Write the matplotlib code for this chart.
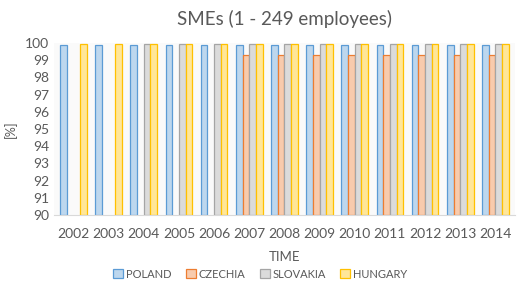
import numpy as np
import matplotlib
matplotlib.use("Agg")
import matplotlib.pyplot as plt

plt.rcParams['font.family'] = ['Lato', 'DejaVu Sans']

years = ['2002', '2003', '2004', '2005', '2006', '2007', '2008',
         '2009', '2010', '2011', '2012', '2013', '2014']
countries = ['POLAND', 'CZECHIA', 'SLOVAKIA', 'HUNGARY']

nan = np.nan
poland = [99.9, 99.9, 99.9, 99.9, 99.9, 99.9, 99.9, 99.9, 99.9, 99.9, 99.9, 99.9, 99.9]
czechia = [nan, nan, nan, nan, nan, 99.3, 99.3, 99.3, 99.3, 99.3, 99.3, 99.3, 99.3]
slovakia = [nan, nan, 99.95, 99.95, 99.95, 99.95, 99.95, 99.95, 99.95, 99.95, 99.95, 99.95, 99.95]
hungary = [99.93, 99.93, 99.93, 99.93, 99.93, 99.93, 99.93, 99.93, 99.93, 99.93, 99.93, 99.93, 99.93]

fills = ['#bdd7ee', '#f8cbad', '#dbdbdb', '#ffe699']
edges = ['#5b9bd5', '#ed7d31', '#a5a5a5', '#ffc000']
txt = '#595959'

fig = plt.figure(figsize=(5.2, 2.83), dpi=100)
ax = fig.add_axes([0.104, 0.24, 0.886, 0.608])

x = np.arange(len(years))
w = 0.19
for i, vals in enumerate([poland, czechia, slovakia, hungary]):
    v = np.array(vals, dtype=float)
    ax.bar(x + (i - 1.5) * w, v - 90, w, bottom=90, color=fills[i],
           edgecolor=edges[i], linewidth=0.9, label=countries[i])

ax.set_ylim(90, 100)
ax.set_xlim(-0.55, len(years) - 0.45)
ax.set_yticks(range(90, 101))
ax.set_xticks(x)
ax.set_xticklabels(years)
ax.tick_params(length=0, colors=txt, labelsize=10)
ax.tick_params(axis='x', pad=9)
for s in ['top', 'right', 'left']:
    ax.spines[s].set_visible(False)
ax.spines['bottom'].set_color('#d9d9d9')
ax.set_facecolor('#fafafa')

ax.set_title('SMEs (1 - 249 employees)', color=txt, fontsize=13.5, pad=13)
ax.set_ylabel('[%]', color=txt, fontsize=9, labelpad=6)
ax.set_xlabel('TIME', color=txt, fontsize=9.5, labelpad=8)

leg = fig.legend(loc='center', bbox_to_anchor=(0.5, 9 / 283), ncol=4,
                 frameon=False, fontsize=8, handlelength=0.9, handleheight=0.9,
                 columnspacing=1.3, handletextpad=0.25, borderpad=0)
for t in leg.get_texts():
    t.set_color(txt)

fig.savefig('out.png', dpi=100)
